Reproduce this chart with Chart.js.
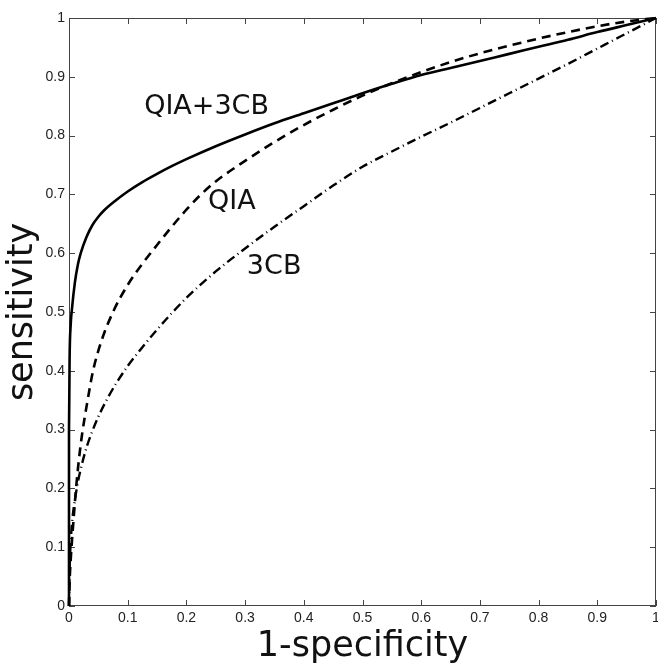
<!DOCTYPE html>
<html><head><meta charset="utf-8">
<script src="https://cdn.jsdelivr.net/npm/chart.js@4.4.1/dist/chart.umd.min.js"></script>
<style>html,body{margin:0;padding:0;background:#fff}#wrap{width:658px;height:665px}</style>
</head><body><div id="wrap"><canvas id="c" width="658" height="665"></canvas></div>
<script>
// ---- data ----
const tickValues = [0,0.1,0.2,0.3,0.4,0.5,0.6,0.7,0.8,0.9,1];
const tickLabels = ['0','0.1','0.2','0.3','0.4','0.5','0.6','0.7','0.8','0.9','1'];

// QIA+3CB (solid)
const qia3cbX = [0, 0, 0.001, 0.003, 0.005, 0.01, 0.015, 0.02, 0.03, 0.04, 0.05, 0.06, 0.08, 0.1, 0.125, 0.15, 0.175, 0.2, 0.25, 0.3, 0.35, 0.4, 0.45, 0.5, 0.55, 0.6, 0.65, 0.7, 0.75, 0.8, 0.85, 0.9, 0.95, 1];
const qia3cbY = [0, 0.3, 0.42, 0.48, 0.505, 0.55, 0.58, 0.6, 0.628, 0.648, 0.662, 0.673, 0.69, 0.705, 0.721, 0.735, 0.748, 0.76, 0.782, 0.802, 0.821, 0.838, 0.855, 0.872, 0.888, 0.903, 0.915, 0.927, 0.939, 0.951, 0.963, 0.976, 0.988, 1];

// QIA (dashed)
const qiaX = [0, 0.001, 0.003, 0.005, 0.008, 0.012, 0.017, 0.022, 0.03, 0.041, 0.055, 0.075, 0.1, 0.125, 0.15, 0.175, 0.2, 0.225, 0.25, 0.3, 0.35, 0.4, 0.45, 0.5, 0.55, 0.6, 0.65, 0.7, 0.75, 0.8, 0.85, 0.9, 0.95, 1];
const qiaY = [0, 0.04, 0.08, 0.11, 0.15, 0.2, 0.25, 0.29, 0.34, 0.4, 0.45, 0.5, 0.546, 0.582, 0.614, 0.645, 0.674, 0.7, 0.722, 0.757, 0.789, 0.818, 0.844, 0.868, 0.889, 0.908, 0.925, 0.94, 0.953, 0.965, 0.976, 0.986, 0.994, 1];

// 3CB (dash-dot)
const cb3X = [0, 0.001, 0.003, 0.006, 0.01, 0.015, 0.02, 0.03, 0.04, 0.05, 0.065, 0.08, 0.1, 0.125, 0.15, 0.175, 0.2, 0.25, 0.3, 0.35, 0.4, 0.45, 0.5, 0.55, 0.6, 0.65, 0.7, 0.75, 0.8, 0.85, 0.9, 0.95, 1];
const cb3Y = [0, 0.06, 0.11, 0.15, 0.18, 0.21, 0.233, 0.27, 0.298, 0.322, 0.352, 0.378, 0.408, 0.44, 0.47, 0.498, 0.524, 0.569, 0.608, 0.645, 0.68, 0.715, 0.747, 0.773, 0.798, 0.822, 0.847, 0.872, 0.897, 0.922, 0.948, 0.974, 1];

const curveNames = ['QIA+3CB', 'QIA', '3CB'];
const nameAnchorX = [0.128, 0.237, 0.303];
const nameAnchorY = [0.849, 0.687, 0.577];

// ---- build ----
const toPts = (xs, ys) => xs.map((v, i) => ({x: v, y: ys[i]}));

const framePlugin = {
  id: 'frame',
  beforeDatasetsDraw(chart) {
    const {ctx, chartArea: a, scales: {x, y}} = chart;
    ctx.save();
    ctx.strokeStyle = '#444';
    ctx.lineWidth = 1;
    ctx.strokeRect(Math.round(a.left) + 0.5, Math.round(a.top) + 0.5,
                   Math.round(a.right - a.left) - 1, Math.round(a.bottom - a.top) - 1);
    const tl = 6;
    ctx.beginPath();
    tickValues.forEach(v => {
      const px = Math.round(x.getPixelForValue(v)) + 0.5;
      ctx.moveTo(px, a.bottom); ctx.lineTo(px, a.bottom - tl);
      ctx.moveTo(px, a.top); ctx.lineTo(px, a.top + tl);
      const py = Math.round(y.getPixelForValue(v)) + 0.5;
      ctx.moveTo(a.left, py); ctx.lineTo(a.left + tl, py);
      ctx.moveTo(a.right, py); ctx.lineTo(a.right - tl, py);
    });
    ctx.stroke();
    ctx.restore();
  },
  afterDatasetsDraw(chart) {
    const {ctx, scales: {x, y}} = chart;
    ctx.save();
    ctx.fillStyle = '#111';
    ctx.font = '27px "DejaVu Sans"';
    ctx.textAlign = 'left';
    ctx.textBaseline = 'middle';
    curveNames.forEach((n, i) => {
      ctx.fillText(n, x.getPixelForValue(nameAnchorX[i]), y.getPixelForValue(nameAnchorY[i]));
    });
    ctx.restore();
  }
};

const tickFont = {family: '"Liberation Sans", Arial, sans-serif', size: 14};

new Chart(document.getElementById('c'), {
  type: 'line',
  data: {
    datasets: [
      {label: curveNames[0], data: toPts(qia3cbX, qia3cbY), borderColor: '#000', borderWidth: 2.6,
       cubicInterpolationMode: 'monotone', pointRadius: 0, clip: false, fill: false},
      {label: curveNames[1], data: toPts(qiaX, qiaY), borderColor: '#000', borderWidth: 2.6,
       borderDash: [9, 6], cubicInterpolationMode: 'monotone', pointRadius: 0, clip: false, fill: false},
      {label: curveNames[2], data: toPts(cb3X, cb3Y), borderColor: '#000', borderWidth: 2.4,
       borderDash: [9, 4, 1, 4], cubicInterpolationMode: 'monotone', pointRadius: 0, clip: false, fill: false}
    ]
  },
  options: {
    responsive: false,
    animation: false,
    layout: {padding: {top: 18, right: 2, left: 0, bottom: 0}},
    plugins: {legend: {display: false}, tooltip: {enabled: false}},
    scales: {
      x: {
        type: 'linear', min: 0, max: 1,
        grid: {display: false, drawTicks: false},
        border: {display: false},
        ticks: {
          stepSize: 0.1, autoSkip: false, maxRotation: 0, padding: 4,
          color: '#222', font: tickFont,
          callback: (v, i) => tickLabels[i]
        },
        title: {display: true, text: '1-specificity', color: '#111',
                font: {family: '"DejaVu Sans"', size: 35, lineHeight: 1},
                padding: {top: 0, bottom: 1}},
        afterFit: s => { s.height = 59; s.paddingLeft = 0; s.paddingRight = 0; }
      },
      y: {
        type: 'linear', min: 0, max: 1,
        grid: {display: false, drawTicks: false},
        border: {display: false},
        ticks: {
          stepSize: 0.1, autoSkip: false, padding: 4,
          color: '#222', font: tickFont,
          callback: (v, i) => tickLabels[i]
        },
        title: {display: true, text: 'sensitivity', color: '#111',
                font: {family: '"DejaVu Sans"', size: 35, lineHeight: 1},
                padding: {top: 5, bottom: 0}},
        afterFit: s => { s.width = 69; s.paddingTop = 0; s.paddingBottom = 0; }
      }
    }
  },
  plugins: [framePlugin]
});
</script>
</body></html>
